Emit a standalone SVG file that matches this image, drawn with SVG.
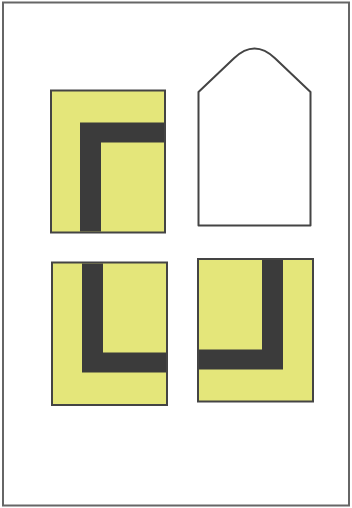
<svg xmlns="http://www.w3.org/2000/svg" width="352" height="508" viewBox="0 0 352 508">
<style>
.frame{fill:#fff;stroke:#666;stroke-width:2}
.tile{fill:#e4e67a;stroke:#444;stroke-width:2}
.bar{fill:#3b3b3b}
.house{fill:#fff;stroke:#444;stroke-width:2;stroke-linejoin:round}
</style>
<rect class="frame" x="3" y="2.5" width="346" height="503"/>
<g id="tile-top-left">
<rect class="tile" x="51" y="90.5" width="114" height="142"/>
<path class="bar" d="M80,122.5 H164 V142.5 H101 V231.5 H80 Z"/>
</g>
<g id="house-outline">
<path class="house" d="M198.5,225.5 V92 L234,58.3 Q254.5,38.8 275,58.3 L310.5,92 V225.5 Z"/>
</g>
<g id="tile-bottom-left">
<rect class="tile" x="52" y="262.5" width="115" height="142.5"/>
<path class="bar" d="M82,263.5 H103 V352.5 H166 V372.5 H82 Z"/>
</g>
<g id="tile-bottom-right">
<rect class="tile" x="198" y="259" width="115" height="142.5"/>
<path class="bar" d="M262,260 H283 V369.5 H199 V349.5 H262 Z"/>
</g>
</svg>
